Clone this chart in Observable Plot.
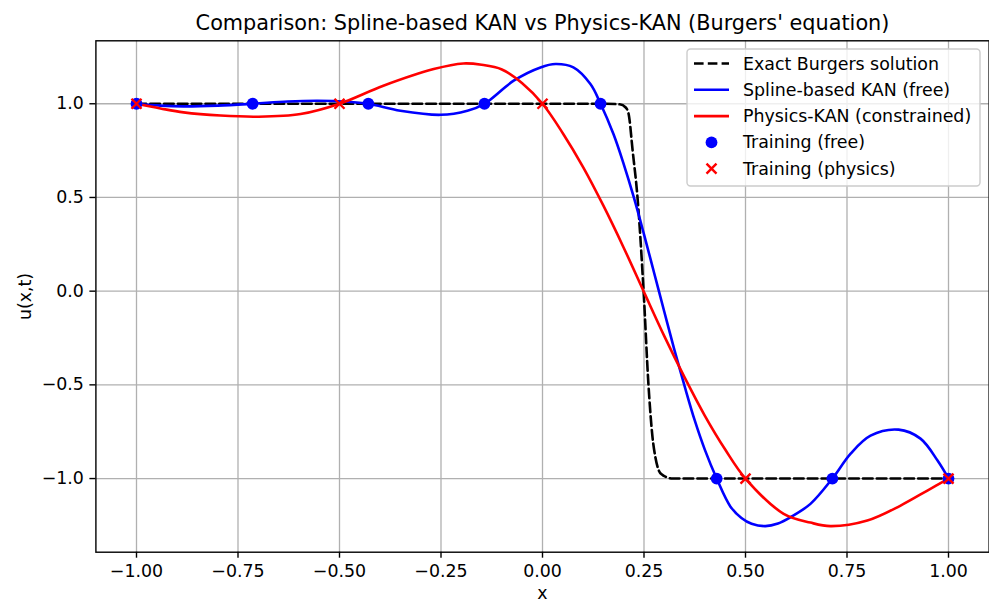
<!DOCTYPE html>
<html>
<head>
<meta charset="utf-8">
<script src="https://cdn.jsdelivr.net/npm/d3@7"></script>
<script src="https://cdn.jsdelivr.net/npm/@observablehq/plot@0.6"></script>
<style>
  html, body { margin: 0; padding: 0; background: white; }
  #chart { position: relative; width: 989px; height: 603px; }
</style>
</head>
<body>
<div id="chart"></div>
<script>
// ---- data ----
const exactX = [-1, 0.15, 0.19, 0.205, 0.212, 0.222, 0.234, 0.249, 0.261, 0.271, 0.278, 0.2865, 0.295, 0.303, 0.32, 0.4, 1];
const exactU = [1, 1, 0.997, 0.98, 0.947, 0.75, 0.5, 0.0, -0.5, -0.78, -0.886, -0.957, -0.98, -0.99, -1, -1, -1];

const freeX = [-1, -0.941, -0.884, -0.8, -0.714, -0.628, -0.554, -0.48, -0.429, -0.35, -0.251, -0.185, -0.143, -0.071, -0.005, 0.032, 0.076, 0.118, 0.143, 0.175, 0.2, 0.225, 0.25, 0.275, 0.3, 0.325, 0.35, 0.375, 0.4, 0.429, 0.463, 0.49, 0.515, 0.549, 0.58, 0.611, 0.66, 0.714, 0.759, 0.808, 0.877, 0.931, 0.973, 1.0];
const freeU = [1.0, 0.99, 0.986, 0.99, 1.0, 1.012, 1.016, 1.011, 1.0, 0.963, 0.941, 0.963, 1.0, 1.123, 1.194, 1.212, 1.194, 1.105, 1.0, 0.837, 0.678, 0.5, 0.303, 0.097, -0.11, -0.315, -0.507, -0.69, -0.847, -1.0, -1.15, -1.21, -1.241, -1.254, -1.24, -1.206, -1.135, -1.0, -0.867, -0.771, -0.739, -0.787, -0.904, -1.0];

const physX = [-1, -0.941, -0.884, -0.793, -0.702, -0.596, -0.5, -0.392, -0.268, -0.195, -0.15, -0.1, -0.05, 0.0, 0.05, 0.1, 0.15, 0.2, 0.25, 0.3, 0.35, 0.4, 0.45, 0.5, 0.594, 0.66, 0.709, 0.8, 0.882, 0.948, 1.0];
const physU = [1.0, 0.975, 0.954, 0.937, 0.931, 0.945, 1.0, 1.096, 1.185, 1.215, 1.208, 1.183, 1.11, 1.0, 0.843, 0.662, 0.456, 0.232, -0.005, -0.24, -0.46, -0.665, -0.845, -1.0, -1.188, -1.235, -1.254, -1.224, -1.144, -1.064, -1.0];

const trainFreeX = [-1, -0.714, -0.429, -0.143, 0.143, 0.429, 0.714, 1];
const trainFreeU = [1, 1, 1, 1, 1, -1, -1, -1];
const trainPhysX = [-1, -0.5, 0, 0.5, 1];
const trainPhysU = [1, 1, 1, -1, -1];

const xTicks = [-1, -0.75, -0.5, -0.25, 0, 0.25, 0.5, 0.75, 1];
const yTicks = [-1, -0.5, 0, 0.5, 1];

const titleText = "Comparison: Spline-based KAN vs Physics-KAN (Burgers' equation)";
const xLabel = "x";
const yLabel = "u(x,t)";
const legendLabels = ["Exact Burgers solution", "Spline-based KAN (free)", "Physics-KAN (constrained)", "Training (free)", "Training (physics)"];

// ---- tables ----
const zip = (xs, ys) => xs.map((x, i) => ({x, u: ys[i]}));
const exact = zip(exactX, exactU);
const free = zip(freeX, freeU);
const phys = zip(physX, physU);
const tFree = zip(trainFreeX, trainFreeU);
const tPhys = zip(trainPhysX, trainPhysU);

const LW = 2.6;           // 1.5pt line
const DASH = "9.6,4.2";   // matplotlib "--"
const crossSymbol = {
  draw(ctx, size) {
    const r = Math.sqrt(size / Math.PI);
    ctx.moveTo(-r, -r); ctx.lineTo(r, r);
    ctx.moveTo(-r, r); ctx.lineTo(r, -r);
  }
};

const plot = Plot.plot({
  width: 989,
  height: 603,
  marginLeft: 95.4,
  marginRight: 0.4,
  marginTop: 40.3,
  marginBottom: 51.3,
  style: {fontFamily: "DejaVu Sans", fontSize: "17.4px", background: "white", color: "black"},
  x: {domain: [-1.1, 1.1]},
  y: {domain: [-1.393, 1.336]},
  marks: [
    Plot.gridX(xTicks, {stroke: "#b0b0b0", strokeOpacity: 1, strokeWidth: 1.3}),
    Plot.gridY(yTicks, {stroke: "#b0b0b0", strokeOpacity: 1, strokeWidth: 1.3}),
    Plot.line(exact, {x: "x", y: "u", stroke: "black", strokeWidth: LW, strokeDasharray: DASH, curve: "monotone-x"}),
    Plot.line(free, {x: "x", y: "u", stroke: "blue", strokeWidth: LW, curve: "catmull-rom"}),
    Plot.line(phys, {x: "x", y: "u", stroke: "red", strokeWidth: LW, curve: "catmull-rom"}),
    Plot.dot(tFree, {x: "x", y: "u", r: 5.9, fill: "blue", stroke: "none"}),
    Plot.dot(tPhys, {x: "x", y: "u", r: 5, symbol: crossSymbol, stroke: "red", strokeWidth: 2.4, fill: "none"}),
    Plot.frame({stroke: "black", strokeWidth: 1.4}),
    Plot.axisX(xTicks, {tickFormat: d3.format(".2f"), tickSize: 6, tickPadding: 6, fontSize: 17.4, label: null, strokeWidth: 1.4}),
    Plot.axisY(yTicks, {tickFormat: d3.format(".1f"), tickSize: 6, tickPadding: 6, fontSize: 17.4, label: null, strokeWidth: 1.4}),
    Plot.text([titleText], {frameAnchor: "top", dy: -17.7, lineAnchor: "middle", fontSize: 20.8}),
    Plot.text([xLabel], {frameAnchor: "bottom", dy: 41.5, lineAnchor: "middle", fontSize: 17.4}),
    Plot.text([yLabel], {frameAnchor: "left", dx: -70.4, rotate: -90, lineAnchor: "middle", textAnchor: "middle", fontSize: 17.4})
  ]
});

document.getElementById("chart").appendChild(plot);

// ---- legend (decoration drawn over the plot) ----
const svg = d3.select(plot);
const lg = svg.append("g").attr("font-family", "DejaVu Sans").attr("font-size", 17.4).attr("text-anchor", "start");
lg.append("rect")
  .attr("x", 687).attr("y", 49).attr("width", 293).attr("height", 137)
  .attr("rx", 3.5).attr("fill", "white").attr("fill-opacity", 0.8)
  .attr("stroke", "#cccccc").attr("stroke-width", 1.4);
const rowY = i => 63.5 + i * 26.3;
const styles = [
  {type: "line", stroke: "black", dash: DASH},
  {type: "line", stroke: "blue"},
  {type: "line", stroke: "red"},
  {type: "dot"},
  {type: "times"}
];
legendLabels.forEach((lab, i) => {
  const y = rowY(i);
  const s = styles[i];
  if (s.type === "line") {
    lg.append("line").attr("x1", 694).attr("x2", 729).attr("y1", y).attr("y2", y)
      .attr("stroke", s.stroke).attr("stroke-width", LW)
      .attr("stroke-dasharray", s.dash || null);
  } else if (s.type === "dot") {
    lg.append("circle").attr("cx", 711.5).attr("cy", y).attr("r", 5.9).attr("fill", "blue");
  } else {
    const d = 5;
    lg.append("path").attr("d", `M${711.5 - d},${y - d}L${711.5 + d},${y + d}M${711.5 - d},${y + d}L${711.5 + d},${y - d}`)
      .attr("stroke", "red").attr("stroke-width", 2.4).attr("fill", "none");
  }
  lg.append("text").attr("x", 743).attr("y", y).attr("dy", "0.35em").attr("fill", "black").text(lab);
});
</script>
</body>
</html>
